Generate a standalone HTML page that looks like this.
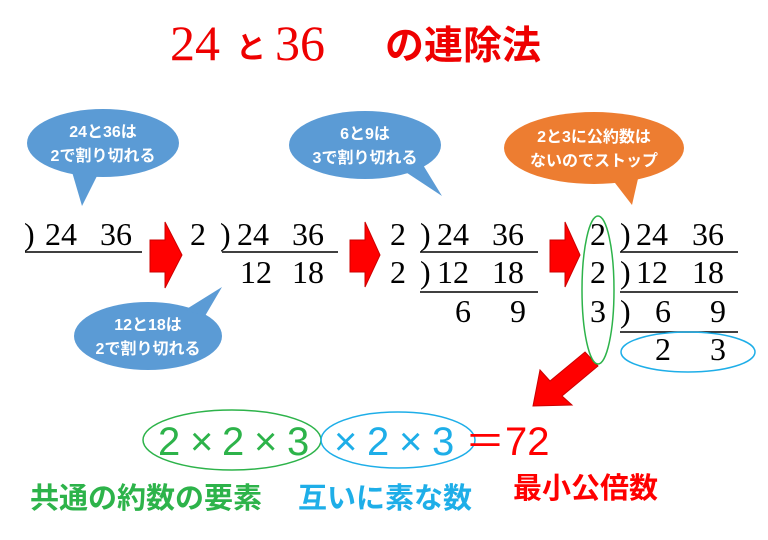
<!DOCTYPE html>
<html><head><meta charset="utf-8"><style>
html,body{margin:0;padding:0;background:#fff;width:768px;height:540px;overflow:hidden}
svg{display:block}
.s{font-family:"Liberation Serif",serif;font-size:32px;fill:#000}
.b{font-family:"Liberation Sans","Noto Sans CJK JP",sans-serif;font-size:16px;fill:#fff;font-weight:bold;text-anchor:middle}
.j{font-family:"Liberation Sans","Noto Sans CJK JP",sans-serif;font-weight:bold}
.m{font-family:"Liberation Sans","Noto Sans CJK JP",sans-serif;font-size:40px}
</style></head><body>
<svg width="768" height="540" viewBox="0 0 768 540">
<!-- title -->
<text x="170" y="60" font-family="Liberation Serif,serif" font-size="50" fill="#e00">24</text>
<text x="236" y="58" class="j" font-size="30" fill="#e00">と</text>
<text x="275" y="60" font-family="Liberation Serif,serif" font-size="50" fill="#e00">36</text>
<text x="385" y="59" class="j" font-size="39" fill="#e00">の連除法</text>

<!-- bubbles -->
<g fill="#5b9bd5">
<ellipse cx="103" cy="143" rx="76" ry="34"/><polygon points="70,165 100,170 82,206"/>
<ellipse cx="365" cy="145" rx="76" ry="34"/><polygon points="395,165 420,160 442,196"/>
<ellipse cx="148" cy="336" rx="74" ry="34"/><polygon points="185,310 205,316 222,287"/>
</g>
<g fill="#ed7d31"><ellipse cx="594" cy="148" rx="90" ry="36"/><polygon points="605,170 640,170 632,205"/></g>
<text class="b" x="103" y="137">24と36は</text><text class="b" x="103" y="161">2で割り切れる</text>
<text class="b" x="365" y="139">6と9は</text><text class="b" x="365" y="163">3で割り切れる</text>
<text class="b" x="148" y="330">12と18は</text><text class="b" x="148" y="354">2で割り切れる</text>
<text class="b" x="594" y="142">2と3に公約数は</text><text class="b" x="594" y="166">ないのでストップ</text>

<!-- arrows -->
<g fill="#f00" stroke="#c00" stroke-width="1">
<polygon points="150,240 165,240 165,222 182,255 165,288 165,272 150,272"/>
<polygon points="350,240 365,240 365,222 380,255 365,287 365,272 350,272"/>
<polygon points="550,240 565,240 565,222 580,255 565,287 565,272 550,272"/>
<polygon points="585,352 598,366 562,396 572,405 533,406 540,370 550,381"/>
</g>

<g stroke="#000" stroke-width="1.5" fill="none">
<line x1="25" y1="252" x2="142" y2="252"/>
<line x1="222" y1="252" x2="338" y2="252"/>
<line x1="420" y1="252" x2="538" y2="252"/><line x1="420" y1="292" x2="538" y2="292"/>
<line x1="620" y1="252" x2="738" y2="252"/><line x1="620" y1="292" x2="738" y2="292"/><line x1="620" y1="332" x2="738" y2="332"/>
</g>
<g class="s">
<text x="24" y="245">)</text><text x="45" y="245">24</text><text x="100" y="245">36</text>
<text x="190" y="245">2</text><text x="220" y="245">)</text><text x="237" y="245">24</text><text x="292" y="245">36</text>
<text x="240" y="283">12</text><text x="292" y="283">18</text>
<text x="390" y="245">2</text><text x="420" y="245">)</text><text x="437" y="245">24</text><text x="492" y="245">36</text>
<text x="390" y="283">2</text><text x="420" y="283">)</text><text x="437" y="283">12</text><text x="492" y="283">18</text>
<text x="455" y="322">6</text><text x="510" y="322">9</text>
<text x="590" y="245">2</text><text x="620" y="245">)</text><text x="636" y="245">24</text><text x="692" y="245">36</text>
<text x="590" y="283">2</text><text x="620" y="283">)</text><text x="636" y="283">12</text><text x="692" y="283">18</text>
<text x="590" y="322">3</text><text x="620" y="322">)</text><text x="655" y="322">6</text><text x="710" y="322">9</text>
<text x="655" y="360">2</text><text x="710" y="360">3</text>
</g>
<ellipse cx="598" cy="290" rx="16" ry="74" fill="none" stroke="#2db34a" stroke-width="1.5"/>
<ellipse cx="688" cy="352" rx="67" ry="20" fill="none" stroke="#1eaee8" stroke-width="1.5"/>

<!-- bottom -->
<ellipse cx="232" cy="440" rx="89" ry="30" fill="none" stroke="#2db34a" stroke-width="1.5"/>
<ellipse cx="398" cy="440" rx="77" ry="28" fill="none" stroke="#1eaee8" stroke-width="1.5"/>
<g class="m" fill="#2db34a"><text x="158" y="455">2</text><text x="190" y="455">×</text><text x="222" y="455">2</text><text x="254" y="455">×</text><text x="287" y="455">3</text></g>
<g class="m" fill="#1eaee8"><text x="334" y="455">×</text><text x="367" y="455">2</text><text x="399" y="455">×</text><text x="432" y="455">3</text></g>
<g class="m" fill="#f00"><text x="465" y="455">＝</text><text x="505" y="455">72</text></g>
<text x="30" y="508" class="j" font-size="29" fill="#2db34a">共通の約数の要素</text>
<text x="298" y="508" class="j" font-size="29" fill="#1eaee8">互いに素な数</text>
<text x="513" y="498" class="j" font-size="29" fill="#f00">最小公倍数</text>
</svg>
</body></html>
